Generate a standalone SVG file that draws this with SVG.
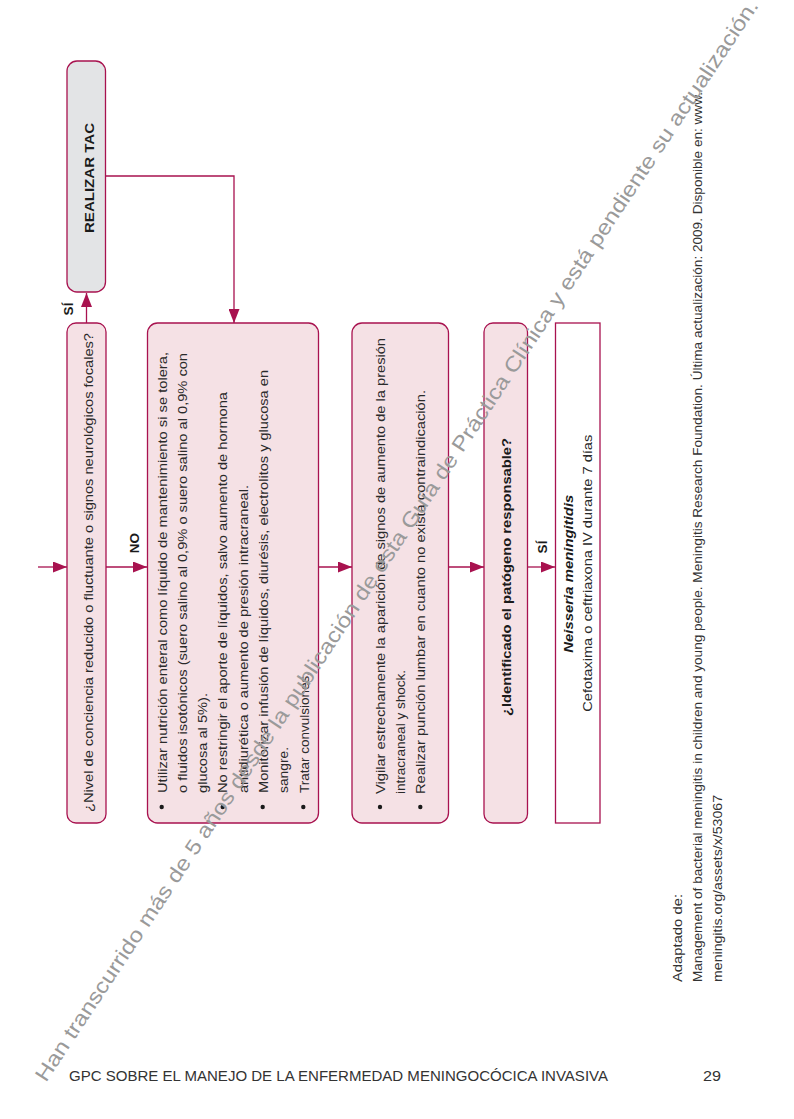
<svg xmlns="http://www.w3.org/2000/svg" width="794" height="1119" viewBox="0 0 794 1119">
<style>
.box{fill:#f5e1e5;stroke:#a8124f;stroke-width:1.3}
.gbox{fill:#e3e4e6;stroke:#a8124f;stroke-width:1.3}
.wbox{fill:#ffffff;stroke:#a8124f;stroke-width:1.3}
.con{fill:none;stroke:#a8124f;stroke-width:1.3}
.t{font-family:"Liberation Sans",Arial,sans-serif;font-size:13.5px;fill:#2a2a2a}
.b{font-weight:bold;fill:#1a1a1a}
.lbl{font-family:"Liberation Sans",Arial,sans-serif;font-size:13.5px;font-weight:bold;fill:#1a1a1a}
.bul{fill:#1a1a1a}
.ref{font-family:"Liberation Sans",Arial,sans-serif;font-size:13px;fill:#333}
.foot{font-family:"Liberation Sans",Arial,sans-serif;font-size:15px;fill:#333}
.wm{font-family:"Liberation Sans",Arial,sans-serif;font-size:21px;fill:#9a9a9a}
</style>
<defs>
<marker id="ah" markerUnits="userSpaceOnUse" markerWidth="14" markerHeight="11" refX="14" refY="5.5" orient="auto">
<path d="M0,0 L14,5.5 L0,11 z" fill="#a8124f"/>
</marker>
</defs>

<g id="connectors">
<path class="con" d="M38,567 H67" marker-end="url(#ah)"/>
<path class="con" d="M106,567 H147" marker-end="url(#ah)"/>
<path class="con" d="M318,567 H352" marker-end="url(#ah)"/>
<path class="con" d="M448,567 H484" marker-end="url(#ah)"/>
<path class="con" d="M527,567 H555" marker-end="url(#ah)"/>
<path class="con" d="M86.5,323 V293" marker-end="url(#ah)"/>
<path class="con" d="M105,176 H234 V323" marker-end="url(#ah)"/>
<g transform="rotate(-90)">
<text class="lbl" x="-309" y="73" text-anchor="middle">SÍ</text>
<text class="lbl" x="-543" y="139" text-anchor="middle">NO</text>
<text class="lbl" x="-547" y="547" text-anchor="middle">SÍ</text>
</g>
</g>

<g id="node-tac">
<rect class="gbox" x="67" y="61" width="38.5" height="231" rx="10"/>
<text class="t b" transform="rotate(-90)" x="-178" y="93.5" text-anchor="middle" font-size="17.5" textLength="110" lengthAdjust="spacingAndGlyphs">REALIZAR TAC</text>
</g>

<g id="node-q1">
<rect class="box" x="67" y="323" width="39" height="500" rx="9"/>
<text class="t" transform="rotate(-90)" x="-812" y="92.5" textLength="479" lengthAdjust="spacingAndGlyphs">¿Nivel de conciencia reducido o fluctuante o signos neurológicos focales?</text>
</g>

<g id="node-manejo">
<rect class="box" x="147.5" y="323" width="171" height="500" rx="10"/>
<g transform="rotate(-90)">
<text class="t" x="-793" y="166.5" textLength="441" lengthAdjust="spacingAndGlyphs">Utilizar nutrición enteral como líquido de mantenimiento si se tolera,</text>
<text class="t" x="-793" y="186.8" textLength="440" lengthAdjust="spacingAndGlyphs">o fluidos isotónicos (suero salino al 0,9% o suero salino al 0,9% con</text>
<text class="t" x="-793" y="207" textLength="100" lengthAdjust="spacingAndGlyphs">glucosa al 5%).</text>
<text class="t" x="-793" y="227.3" textLength="401" lengthAdjust="spacingAndGlyphs">No restringir el aporte de líquidos, salvo aumento de hormona</text>
<text class="t" x="-793" y="247.6" textLength="308" lengthAdjust="spacingAndGlyphs">antidiurética o aumento de presión intracraneal.</text>
<text class="t" x="-793" y="268" textLength="423" lengthAdjust="spacingAndGlyphs">Monitorizar infusión de líquidos, diurésis, electrolitos y glucosa en</text>
<text class="t" x="-793" y="288.2" textLength="46" lengthAdjust="spacingAndGlyphs">sangre.</text>
<text class="t" x="-793" y="308.5" textLength="121" lengthAdjust="spacingAndGlyphs">Tratar convulsiones.</text>
</g>
<circle class="bul" cx="161.7" cy="807" r="2.2"/>
<circle class="bul" cx="222.7" cy="807" r="2.2"/>
<circle class="bul" cx="262.7" cy="807" r="2.2"/>
<circle class="bul" cx="303.3" cy="807" r="2.2"/>
</g>

<g id="node-vigilar">
<rect class="box" x="352" y="323" width="96.5" height="500" rx="10"/>
<g transform="rotate(-90)">
<text class="t" x="-794" y="384.8" textLength="456" lengthAdjust="spacingAndGlyphs">Vigilar estrechamente la aparición de signos de aumento de la presión</text>
<text class="t" x="-794" y="405" textLength="124" lengthAdjust="spacingAndGlyphs">intracraneal y shock.</text>
<text class="t" x="-794" y="425.3" textLength="404" lengthAdjust="spacingAndGlyphs">Realizar punción lumbar en cuanto no exista contraindicación.</text>
</g>
<circle class="bul" cx="380" cy="807" r="2.2"/>
<circle class="bul" cx="420.3" cy="807" r="2.2"/>
</g>

<g id="node-q2">
<rect class="box" x="484" y="323" width="43.5" height="500" rx="9"/>
<text class="t b" transform="rotate(-90)" x="-716" y="511" textLength="278" lengthAdjust="spacingAndGlyphs">¿Identificado el patógeno responsable?</text>
</g>

<g id="node-neisseria">
<rect class="wbox" x="555.5" y="323" width="44.5" height="500"/>
<g transform="rotate(-90)">
<text class="t b" font-style="italic" x="-652.7" y="573" textLength="158" lengthAdjust="spacingAndGlyphs">Neisseria meningitidis</text>
<text class="t" x="-711.7" y="592" textLength="277" lengthAdjust="spacingAndGlyphs">Cefotaxima o ceftriaxona IV durante 7 días</text>
</g>
</g>

<g id="source" transform="rotate(-90)">
<text class="ref" x="-982" y="682" textLength="88" lengthAdjust="spacingAndGlyphs">Adaptado de:</text>
<text class="ref" x="-982" y="701.5" textLength="890" lengthAdjust="spacingAndGlyphs">Management of bacterial meningitis in children and young people. Meningitis Research Foundation. Última actualización: 2009. Disponible en: www.</text>
<text class="ref" x="-982" y="721.5" textLength="187" lengthAdjust="spacingAndGlyphs">meningitis.org/assets/x/53067</text>
</g>

<g id="footer">
<text class="foot" x="69" y="1080.5" textLength="539" lengthAdjust="spacingAndGlyphs">GPC SOBRE EL MANEJO DE LA ENFERMEDAD MENINGOCÓCICA INVASIVA</text>
<text class="foot" x="703" y="1080.5" textLength="18" lengthAdjust="spacingAndGlyphs">29</text>
</g>

<g id="watermark">
<text class="wm" transform="translate(46,1083) rotate(-56.5)" x="0" y="0" textLength="1292" lengthAdjust="spacingAndGlyphs">Han transcurrido más de 5 años desde la publicación de esta Guía de Práctica Clínica y está pendiente su actualización.</text>
</g>
</svg>
